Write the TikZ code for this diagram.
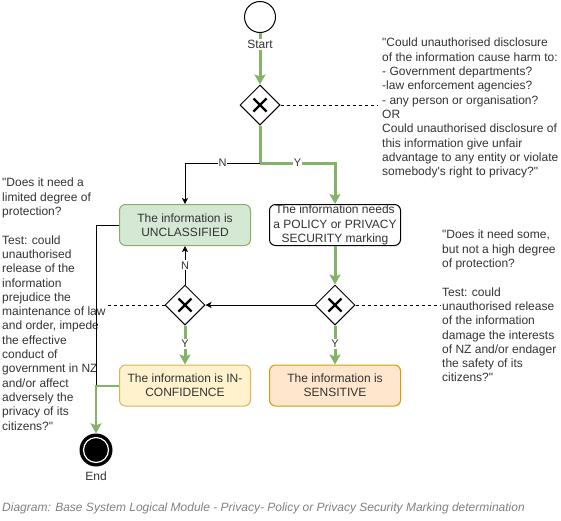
\documentclass[tikz,border=0pt]{standalone}
\usepackage{fontspec}
\setmainfont{Liberation Sans}[Ligatures=TeXOff]
\usetikzlibrary{arrows.meta,shapes.geometric,positioning}
\definecolor{yesgreen}{HTML}{82B366}
\definecolor{ucfill}{HTML}{D5E8D4}
\definecolor{icfill}{HTML}{FFF2CC}
\definecolor{icline}{HTML}{D6B656}
\definecolor{snfill}{HTML}{FFE6CC}
\definecolor{snline}{HTML}{D79B00}
\definecolor{ink}{HTML}{333333}

\begin{document}
\begin{tikzpicture}[x=1pt, y=-1pt]
                \tikzset{box/.style={draw, line width=1pt, rounded corners=6pt, minimum width=131pt, minimum height=41pt, inner sep=0pt, align=center, text=ink, font=\fontsize{12}{14.3}\selectfont},
                gate/.style={draw, line width=1pt, diamond, minimum width=40pt, minimum height=40pt, inner sep=0pt,
                path picture={\draw[line width=2.4pt] ([shift={(-6.5pt,-6.5pt)}]path picture bounding box.center) -- ([shift={(6.5pt,6.5pt)}]path picture bounding box.center)
                ([shift={(-6.5pt,6.5pt)}]path picture bounding box.center) -- ([shift={(6.5pt,-6.5pt)}]path picture bounding box.center);}},
                yes/.style={draw=yesgreen, line width=3pt, -{Stealth[length=10pt, width=11pt, inset=2pt, fill=yesgreen]}},
                no/.style={draw=black, line width=1pt, -{Stealth[length=6pt, width=6pt, inset=1.5pt]}},
                lbl/.style={fill=white, inner sep=1pt, text=ink, font=\fontsize{11}{13}\selectfont},
                note/.style={align=left, inner xsep=2pt, inner ysep=0pt, anchor=north west, text=ink, font=\fontsize{12}{14.3}\selectfont},
                hint/.style={dashed, line width=1pt, dash pattern=on 3pt off 3pt}}

                \useasboundingbox (0,0) rectangle (561,520);

                \node[circle, draw, line width=1pt, minimum size=31pt, inner sep=0pt] (start) at (260,17) {};
                \node[gate] (g1) at (260,105) {};
                \coordinate (fork) at (260,163);
                \node[box, fill=ucfill, draw=yesgreen] (unclass) at (185,225) {The information is\\UNCLASSIFIED};
                \node[box, fill=white] (policy) at (335,225) {The information needs\\a POLICY or PRIVACY\\SECURITY marking};
                \node[gate] (g2) at (185,305) {};
                \node[gate] (g3) at (335,305) {};
                \node[box, fill=icfill, draw=icline] (inconf) at (185,385.5) {The information is IN-\\CONFIDENCE};
                \node[box, fill=snfill, draw=snline] (sens) at (335,385.5) {The information is\\SENSITIVE};
                \node[circle, fill=black, minimum size=33pt, inner sep=0pt,
                path picture={\draw[white, line width=1.2pt] (path picture bounding box.center) circle (12.5pt);}] (end) at (96,450) {};
                \node[below=5pt of end, inner sep=0pt, text=ink, font=\fontsize{12}{14}\selectfont] (endlbl) {End};

                \node[note] (q1) at (380,38) {"Could unauthorised disclosure\\of the information cause harm to:\\- Government departments?\\-law enforcement agencies?\\- any person or organisation?\\OR\\Could unauthorised disclosure of\\this information give unfair\\advantage to any entity or violate\\somebody's right to privacy?"};
                \node[note] (q2) at (0,178) {"Does it need a\\limited degree of\\protection?\\[14.3pt]Test: could\\unauthorised\\release of the\\information\\prejudice the\\maintenance of law\\and order, impede\\the effective\\conduct of\\government in NZ\\and/or affect\\adversely the\\privacy of its\\citizens?"};
                \node[note] (q3) at (440,230) {"Does it need some,\\but not a high degree\\of protection?\\[14.3pt]Test: could\\unauthorised release\\of the information\\damage the interests\\of NZ and/or endager\\the safety of its\\citizens?"};

                \draw[yes] (start) -- node[pos=.22, fill=white, inner sep=1pt, text=ink, font=\fontsize{12}{14}\selectfont] {Start} (g1);
                \draw[no] (fork) -| node[pos=.25, lbl] {N} (unclass);
                \draw[yes, -] (g1) -- (fork);
                \draw[yes] (fork) -| node[pos=.25, lbl] {Y} (policy);
                \draw[yes] (policy) -- (g3);
                \draw[no] (g3) -- (g2);
                \draw[no] (g2) -- node[lbl] {N} (unclass);
                \draw[yes] (g2) -- node[pos=.47, lbl] {Y} (inconf);
                \draw[yes] (g3) -- node[pos=.47, lbl] {Y} (sens);
                \draw[line width=1pt] (unclass.west) -| (inconf.west -| end);
                \draw[yes, line width=2pt] (inconf.west) -| (end);

                \draw[hint] (g1.east) -- ([xshift=-2pt]q1.west |- g1);
                \draw[hint] (g3.east) -- (q3.west |- g3);
                \draw[hint] (g2.west) -- (q2.east |- g2);

                \node[anchor=west, inner sep=0pt, text=black!50, font=\fontsize{12}{14}\itshape] (caption) at (2,508) {Diagram: Base System Logical Module - Privacy- Policy or Privacy Security Marking determination};
            \end{tikzpicture}
\end{document}
